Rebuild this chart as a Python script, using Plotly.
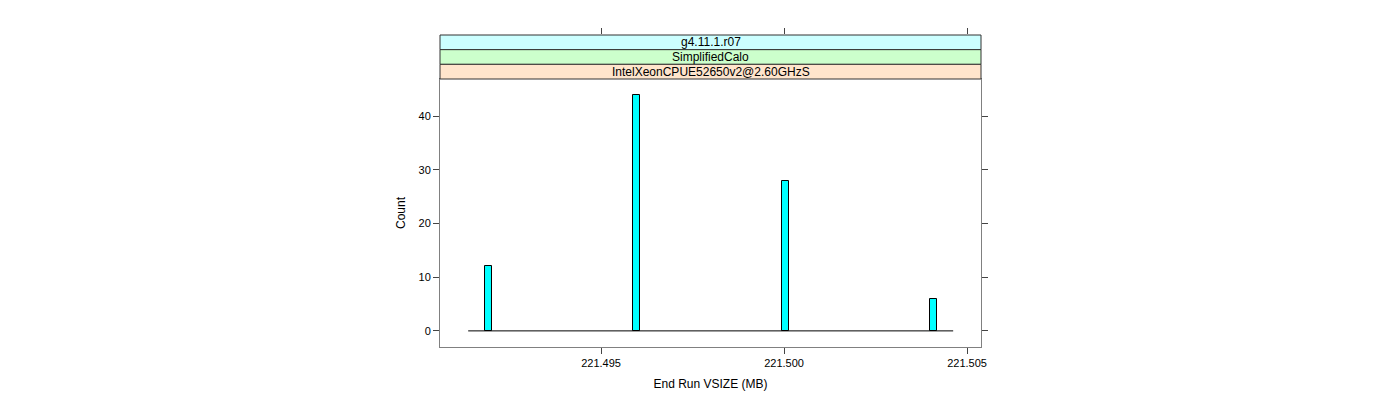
import plotly.graph_objects as go

# Data
bin_centers = [221.49192, 221.49596, 221.50003, 221.50408]
counts = [12, 44, 28, 6]
bin_width = 0.000185
hist_range = [221.49137, 221.50462]
x_tick_vals = [221.495, 221.500, 221.505]
x_tick_text = ["221.495", "221.500", "221.505"]
y_tick_vals = [0, 10, 20, 30, 40]
strip_labels = ["g4.11.1.r07", "SimplifiedCalo", "IntelXeonCPUE52650v2@2.60GHzS"]
strip_colors = ["#CCFFFF", "#CCFFCC", "#FFE5CC"]

FONT = "Liberation Sans, Arial, sans-serif"
W, H = 1400, 400
left, right, top, bottom = 440, 981, 34, 347
strip_top = 35
panel_top = 79
plot_h = bottom - top

fig = go.Figure()
fig.add_trace(go.Scatter(x=hist_range, y=[0, 0], mode="lines",
                         line=dict(color="black", width=1), hoverinfo="skip",
                         showlegend=False))
fig.add_trace(go.Bar(x=bin_centers, y=counts, width=bin_width,
                     marker=dict(color="#00FFFF", line=dict(color="black", width=1)),
                     showlegend=False))
fig.add_trace(go.Scatter(x=hist_range, y=[0, 0], xaxis="x2", mode="markers",
                         marker=dict(opacity=0), hoverinfo="skip", showlegend=False))

xr = [221.49060, 221.50538]
axcol = "#808080"
tkcol = "#444444"
panel_dom_top = (bottom - panel_top) / plot_h
fig.update_layout(
    width=W, height=H,
    margin=dict(l=left, r=W - right, t=top, b=H - bottom, pad=0),
    paper_bgcolor="white", plot_bgcolor="white",
    font=dict(family=FONT, size=12, color="black"),
    bargap=0,
    xaxis=dict(range=xr, tickvals=x_tick_vals, ticktext=x_tick_text,
               ticks="outside", ticklen=6, tickcolor=tkcol, showgrid=False,
               zeroline=False, showline=True, linecolor=axcol, mirror=True,
               tickfont=dict(size=11),
               title=dict(text="End Run VSIZE (MB)", font=dict(size=12), standoff=11)),
    xaxis2=dict(range=xr, tickvals=x_tick_vals, showticklabels=False,
                ticks="outside", ticklen=6, tickcolor=tkcol, showgrid=False,
                zeroline=False, showline=False, overlaying="x", side="top",
                anchor="free", position=1),
    yaxis=dict(range=[-3.0, 46.9], domain=[0, panel_dom_top], tickvals=y_tick_vals,
               ticks="outside", ticklen=6, tickcolor=tkcol, showgrid=False,
               zeroline=False, showline=True, linecolor=axcol, mirror="ticks",
               tickfont=dict(size=11),
               title=dict(text="Count", font=dict(size=12), standoff=10)),
)

# strips
strip_h = (panel_top - strip_top) / 3
shapes = []
annotations = []
for i, (lab, col) in enumerate(zip(strip_labels, strip_colors)):
    y1 = strip_top + i * strip_h
    y0 = y1 + strip_h
    p0 = (bottom - y0) / plot_h
    p1 = (bottom - y1) / plot_h
    shapes.append(dict(type="rect", xref="paper", yref="paper", x0=0, x1=1,
                       y0=p0, y1=p1, fillcolor=col,
                       line=dict(color="#333333", width=1), layer="above"))
    annotations.append(dict(text=lab, xref="paper", yref="paper", x=0.5,
                            y=(p0 + p1) / 2, showarrow=False,
                            font=dict(size=12, family=FONT, color="black"),
                            xanchor="center", yanchor="middle"))
fig.update_layout(shapes=shapes, annotations=annotations)

fig.write_html("out.html")
